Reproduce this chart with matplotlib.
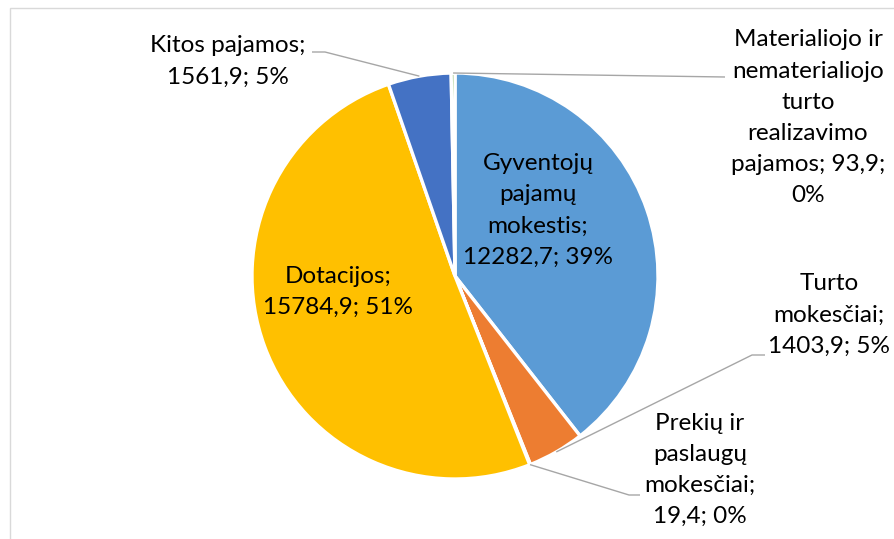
import matplotlib
matplotlib.use("Agg")
import matplotlib.pyplot as plt
import numpy as np
from matplotlib.patches import Rectangle

plt.rcParams['font.family'] = ['Lato', 'DejaVu Sans']

# ---- data ----
categories = ["Gyventojų pajamų mokestis", "Turto mokesčiai", "Prekių ir paslaugų mokesčiai",
              "Dotacijos", "Kitos pajamos", "Materialiojo ir nematerialiojo turto realizavimo pajamos"]
values = [12282.7, 1403.9, 19.4, 15784.9, 1561.9, 93.9]
percents = ["39%", "5%", "0%", "51%", "5%", "0%"]
label_texts = [
    "Gyventojų\npajamų\nmokestis;\n12282,7; 39%",
    "Turto\nmokesčiai;\n1403,9; 5%",
    "Prekių ir\npaslaugų\nmokesčiai;\n19,4; 0%",
    "Dotacijos;\n15784,9; 51%",
    "Kitos pajamos;\n1561,9; 5%",
    "Materialiojo ir\nnematerialiojo\nturto\nrealizavimo\npajamos; 93,9;\n0%",
]
colors = ["#5B9BD5", "#ED7D31", "#A5A5A5", "#FFC000", "#4472C4", "#70AD47"]

W, H = 894, 539
fig = plt.figure(figsize=(W / 100, H / 100), dpi=100)
ax = fig.add_axes([0, 0, 1, 1])

# frame (chart area border)
fig.patches.append(Rectangle((10 / W, -0.1), 1.2, (H - 8) / H + 0.1, transform=fig.transFigure,
                             fill=False, edgecolor="#D9D9D9", linewidth=1.0))

cx, cy, r = 455, H - 276, 203
wedges, _ = ax.pie(values, colors=colors, startangle=90, counterclock=False,
                   center=(cx, cy), radius=r, frame=True,
                   wedgeprops=dict(edgecolor="white", linewidth=2.4))
ax.set_xlim(0, W)
ax.set_ylim(0, H)
ax.axis('off')

# label positions (pixel coords, top-origin)
label_pos = [(538, 210.5), (829, 315), (700, 470), (338, 292), (228, 61.5), (808, 118)]
# leader line elbows/ends (pixel coords) for outside labels
leaders = {
    1: [(752, 355), (765, 355)],
    2: [(629, 495), (640, 495)],
    4: [(325, 52), (312, 52)],
    5: [(725, 77)],
}

for i, (txt, (px, py)) in enumerate(zip(label_texts, label_pos)):
    ax.text(px, H - py, txt, ha='center', va='center', fontsize=17.5,
            color='black', linespacing=1.6, multialignment='center')
    if i in leaders:
        w = wedges[i]
        mid = np.deg2rad((w.theta1 + w.theta2) / 2)
        sx, sy = cx + r * np.cos(mid), cy + r * np.sin(mid)
        xs = [sx] + [p[0] for p in leaders[i]]
        ys = [sy] + [H - p[1] for p in leaders[i]]
        ax.plot(xs, ys, color="#A6A6A6", linewidth=1.0, solid_capstyle='butt')

fig.savefig("out.png", dpi=100)
